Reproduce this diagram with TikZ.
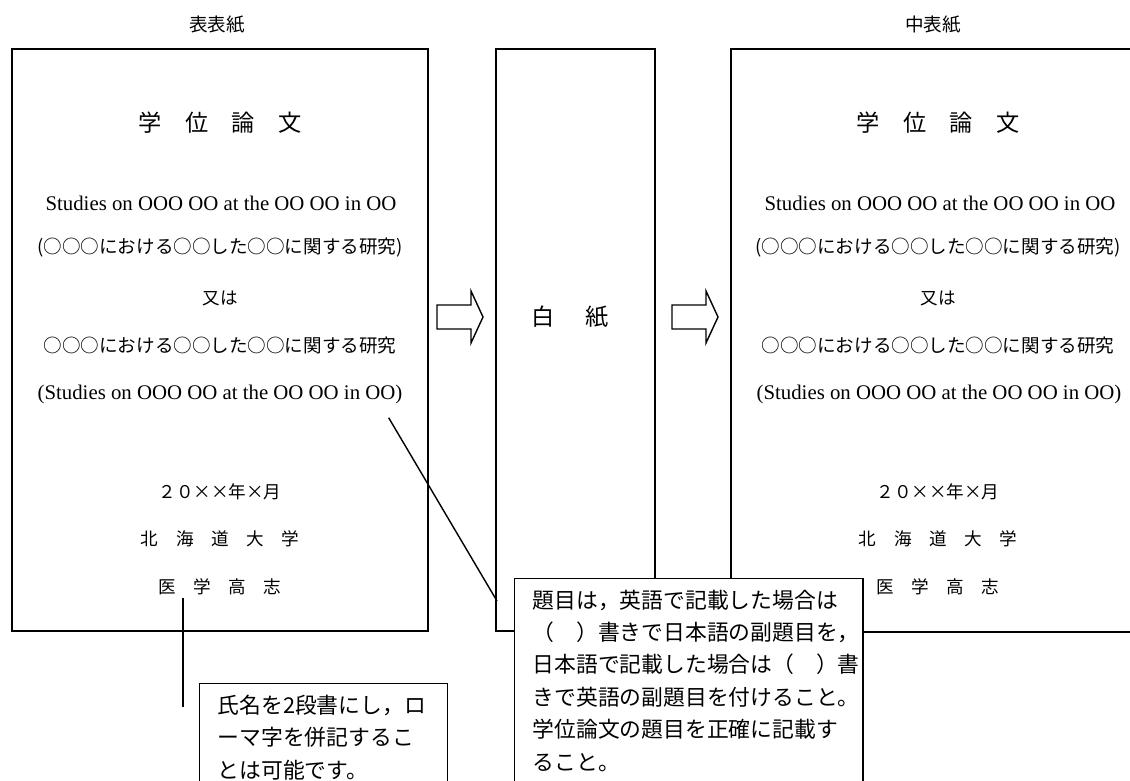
\documentclass[tikz,border=0pt]{standalone}
\usepackage{fontspec}
\setmainfont{Liberation Serif}
\newfontfamily\jp{Noto Sans CJK JP}
\tikzset{
  page/.style={line width=1.3pt},
  en/.style={inner sep=0pt,font=\fontsize{14.8}{17}\selectfont},
  ja/.style={inner sep=0pt,font=\jp\fontsize{13.2}{16}\selectfont},
  jasmall/.style={inner sep=0pt,font=\jp\fontsize{12.5}{15}\selectfont},
  jabig/.style={inner sep=0pt,font=\jp\fontsize{16.5}{20}\selectfont},
  note/.style={draw,line width=1pt,fill=white,anchor=north west,align=left,
    inner xsep=12.8pt,inner ysep=8pt,font=\jp\fontsize{15.5}{23}\selectfont},
  lead/.style={line width=1pt},
  blockarrow/.style={line width=1pt}
}

\begin{document}
\begin{tikzpicture}[x=0.025cm,y=-0.025cm]
      \clip (0,0) rectangle (1130,781);

      \draw[page] (12,49) rectangle (428,631);
      \draw[page] (496,49) rectangle (655,631);
      \draw[page] (731,49) rectangle (1140,632);

      \foreach \ax in {437,672}
        \draw[blockarrow] (\ax,305) -- ++(34,0) -- ++(0,-14) -- ++(12,26)
          -- ++(-12,26) -- ++(0,-14) -- ++(-34,0) -- cycle;

      \node[ja] (Lhead) at (217,25) {表表紙};
      \node[jabig] (Ltitle) at (220,123) {学　位　論　文};
      \node[en] (Len) at (221,203) {Studies on OOO OO at the OO OO in OO};
      \node[ja] (Ljp) at (220,248) {(○○○における○○した○○に関する研究)};
      \node[jasmall] (Lor) at (220,298) {又は};
      \node[ja] (Ljp2) at (220,345) {○○○における○○した○○に関する研究};
      \node[en] (Lsub) at (220,394) {(Studies on OOO OO at the OO OO in OO)};
      \node[jasmall] (Ldate) at (220,492) {２０××年×月};
      \node[jasmall] (Luniv) at (220,539) {北　海　道　大　学};
      \node[jasmall] (Lname) at (220,587) {医　学　高　志};

      \node[jabig] (blank) at (570,317) {白\hspace{1.3em}紙};

      \node[ja] (Rhead) at (933,25) {中表紙};
      \node[jabig] (Rtitle) at (938,123) {学　位　論　文};
      \node[en] (Ren) at (940,203) {Studies on OOO OO at the OO OO in OO};
      \node[ja] (Rjp) at (938,248) {(○○○における○○した○○に関する研究)};
      \node[jasmall] (Ror) at (938,298) {又は};
      \node[ja] (Rjp2) at (938,345) {○○○における○○した○○に関する研究};
      \node[en] (Rsub) at (939,394) {(Studies on OOO OO at the OO OO in OO)};
      \node[jasmall] (Rdate) at (938,492) {２０××年×月};
      \node[jasmall] (Runiv) at (938,539) {北　海　道　大　学};
      \node[jasmall] (Rname) at (938,587) {医　学　高　志};

      \coordinate (nametail) at (183,707);
      \coordinate (subtip) at (497,601);
      \draw[lead] (nametail |- Lname.south) ++(0,3) -- (nametail);
      \draw[lead] (Lsub.south east) ++(-14,14) -- (subtip);

      \node[note,text width=150.8pt] (namenote) at (199,683)
        {氏名を2段書にし，ロ\\ーマ字を併記するこ\\とは可能です。\rule[-30pt]{0pt}{30pt}};
      \node[note,text width=222pt] (titlenote) at (514,578)
        {題目は，英語で記載した場合は\\（　）書きで日本語の副題目を，\\日本語で記載した場合は（　）書\\きで英語の副題目を付けること。\\学位論文の題目を正確に記載す\\ること。\rule[-30pt]{0pt}{30pt}};
    \end{tikzpicture}
\end{document}
